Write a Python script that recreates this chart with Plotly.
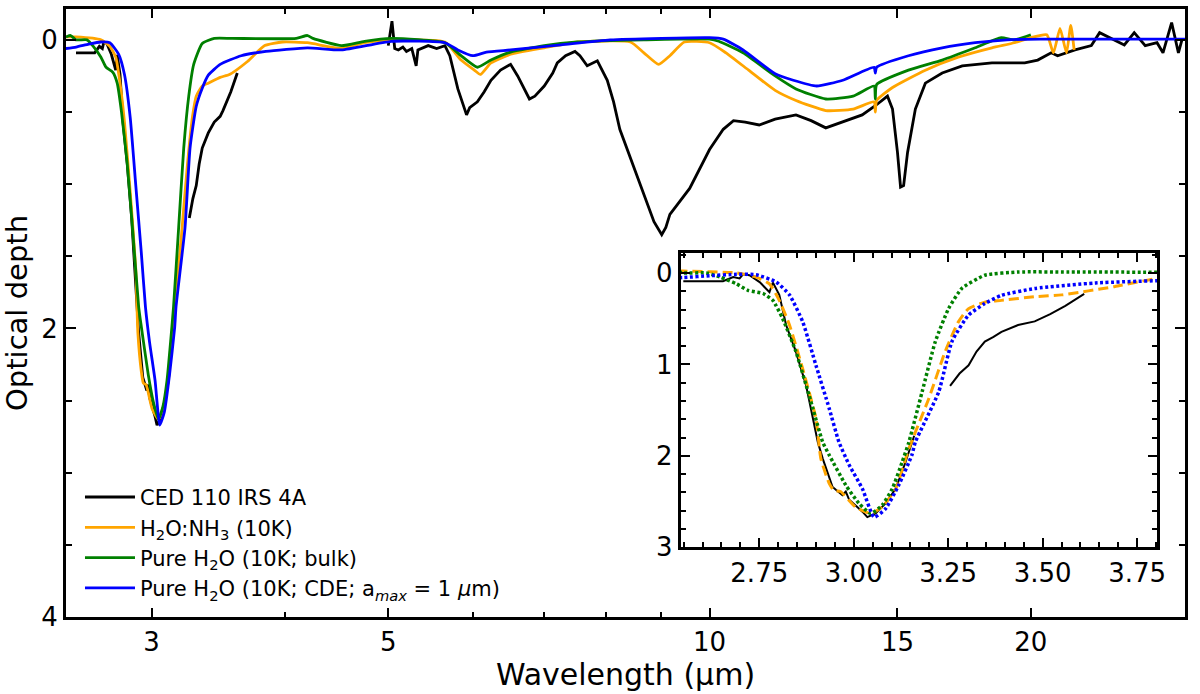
import plotly.graph_objects as go

# ---- data (wavelength in um, optical depth) ----
# CED 110 IRS 4A, three separate pieces of the observed spectrum
ced_wl_a = [2.549, 2.60, 2.654, 2.681, 2.698, 2.707, 2.724, 2.751, 2.777, 2.786, 2.803, 2.821,
            2.847, 2.874, 2.905, 2.918, 2.944, 2.970, 2.979, 2.988, 3.023, 3.036, 3.058, 3.084,
            3.111, 3.137, 3.160]
ced_tau_a = [0.09, 0.09, 0.09, 0.045, 0.06, 0.015, 0.025, 0.10, 0.21, 0.105, 0.24, 0.57,
             0.86, 1.23, 1.85, 2.03, 2.34, 2.43, 2.39, 2.48, 2.61, 2.67, 2.63, 2.52,
             2.36, 2.07, 1.78]
ced_wl_b = [3.255, 3.28, 3.304, 3.325, 3.347, 3.37, 3.391, 3.435, 3.479, 3.50, 3.52, 3.56, 3.61]
ced_tau_b = [1.235, 1.10, 1.01, 0.86, 0.75, 0.70, 0.645, 0.57, 0.53, 0.49, 0.45, 0.36, 0.23]
ced_wl_c = [5.00, 5.04, 5.07, 5.11, 5.16, 5.20, 5.26, 5.31, 5.33, 5.40, 5.45, 5.55, 5.65, 5.71,
            5.81, 5.92, 5.96, 6.06, 6.15, 6.24, 6.37, 6.51, 6.61, 6.78, 6.86, 7.00, 7.13, 7.20,
            7.33, 7.48, 7.56, 7.68, 7.85, 8.02, 8.13, 8.24, 8.55, 8.87, 9.02, 9.10, 9.18, 9.58,
            10.0, 10.30, 10.53, 10.8, 11.13, 11.52, 12.05, 12.45, 12.85, 13.33, 13.9, 14.31,
            14.68, 14.84, 15.0, 15.10, 15.2, 15.33, 15.5, 15.59, 15.93, 16.52, 17.25, 18.39,
            19.74, 20.3, 20.9, 21.19, 22.0, 22.79, 23.2, 24.47, 25.0, 25.6, 26.26, 26.6, 27.1,
            27.5, 27.71]
ced_tau_c = [0.04, -0.13, 0.06, 0.07, 0.05, 0.08, 0.06, 0.18, 0.07, 0.05, 0.04, 0.06, 0.04, 0.11,
             0.34, 0.52, 0.47, 0.43, 0.36, 0.28, 0.21, 0.17, 0.25, 0.41, 0.39, 0.32, 0.23, 0.16,
             0.11, 0.08, 0.11, 0.18, 0.145, 0.28, 0.43, 0.62, 0.94, 1.26, 1.35, 1.30, 1.21, 1.03,
             0.76, 0.62, 0.56, 0.57, 0.59, 0.55, 0.52, 0.56, 0.61, 0.57, 0.52, 0.455,
             0.39, 0.48, 0.78, 1.02, 1.01, 0.78, 0.59, 0.48, 0.30, 0.23, 0.18, 0.16,
             0.16, 0.14, 0.09, 0.11, 0.07, 0.04, -0.05, 0.035, -0.05, 0.04, 0.02, 0.09, -0.12,
             0.09, 0.0]

# H2O:NH3 (10K)
nh3_wl = [2.494, 2.549, 2.69, 2.742, 2.777, 2.803, 2.830, 2.865, 2.90, 2.913, 2.935, 2.948,
          2.965, 3.005, 3.045, 3.075, 3.111, 3.146, 3.199, 3.242, 3.277, 3.304, 3.347, 3.391,
          3.479, 3.55, 3.69, 3.83, 3.98, 4.2, 4.52, 4.75, 5.03, 5.65, 5.85, 6.02, 6.10, 6.24,
          6.51, 7.0, 7.52, 8.43, 8.68, 8.96, 9.18, 9.47, 10.0, 10.36, 10.88, 11.52, 12.05,
          12.85, 13.63, 14.26, 14.30, 14.34, 14.84, 15.93, 17.10, 18.39, 19.3, 20.0, 20.7,
          21.0, 21.3, 21.6, 21.8, 21.96]
nh3_tau = [-0.02, -0.02, 0.0, 0.045, 0.12, 0.30, 0.57, 1.05, 1.59, 2.03, 2.30, 2.38,
           2.39, 2.56, 2.63, 2.56, 2.36, 1.92, 1.37, 0.86, 0.535, 0.39, 0.32, 0.30,
           0.26, 0.24, 0.15, 0.04, 0.015, 0.02, 0.06, 0.02, 0.0, 0.015, 0.14, 0.21, 0.24, 0.16,
           0.10, 0.055, 0.015, 0.015, 0.09, 0.17, 0.11, 0.015, 0.02, 0.09, 0.21, 0.35, 0.42,
           0.49, 0.48, 0.43, 0.50, 0.42, 0.33, 0.21, 0.12, 0.055, 0.02, -0.015, -0.035,
           0.09, -0.08, 0.09, -0.10, 0.07]

# Pure H2O (10K; bulk)
bulk_wl = [2.494, 2.52, 2.549, 2.61, 2.646, 2.69, 2.72, 2.76, 2.786, 2.812, 2.847, 2.882,
           2.918, 2.935, 2.979, 3.014, 3.045, 3.075, 3.102, 3.128, 3.146, 3.181, 3.216, 3.251,
           3.286, 3.347, 3.435, 3.57, 4.1, 4.2, 4.25, 4.52, 4.75, 5.03, 5.65, 5.85, 6.06, 6.24,
           6.51, 7.0, 7.52, 8.68, 10.0, 10.2, 10.75, 11.52, 12.05, 12.85, 13.63, 14.26, 14.30,
           14.34, 15.36, 16.52, 17.74, 18.76, 19.3, 20.0]
bulk_tau = [-0.02, -0.03, 0.0, 0.0, 0.045, 0.12, 0.19, 0.225, 0.30, 0.50, 0.86, 1.34,
            1.85, 1.99, 2.32, 2.52, 2.63, 2.54, 2.36, 2.07, 1.85, 1.30, 0.75, 0.39,
            0.17, 0.025, -0.01, -0.01, -0.01, -0.03, -0.01, 0.04, 0.01, -0.01, 0.02, 0.11, 0.19, 0.14,
            0.085, 0.04, 0.015, 0.0, -0.005, 0.01, 0.09, 0.25, 0.34, 0.41, 0.39, 0.32, 0.41,
            0.31, 0.21, 0.14, 0.055, -0.015, 0.0, -0.035]

# Pure H2O (10K; CDE; a_max = 1 um)
cde_wl = [2.494, 2.55, 2.62, 2.69, 2.742, 2.795, 2.83, 2.865, 2.90, 2.935, 2.961, 2.988,
          3.023, 3.054, 3.084, 3.119, 3.154, 3.163, 3.225, 3.26, 3.304, 3.347, 3.391, 3.479,
          3.64, 3.84, 4.2, 4.52, 5.03, 5.65, 5.81, 6.0, 6.18, 6.51, 7.26, 8.07, 10.0, 10.3,
          10.75, 11.52, 11.98, 12.6, 13.33, 14.26, 14.30, 14.34, 15.36, 16.52, 17.74, 19.0,
          20.4, 27.9]
cde_tau = [0.06, 0.05, 0.03, 0.015, 0.02, 0.10, 0.24, 0.535, 1.01, 1.48, 1.85, 2.10,
           2.36, 2.67, 2.58, 2.32, 1.99, 1.85, 1.30, 0.75, 0.46, 0.335, 0.245, 0.17,
           0.11, 0.08, 0.055, 0.07, 0.01, 0.02, 0.07, 0.11, 0.085, 0.07, 0.035, 0.0, -0.015, -0.005,
           0.07, 0.235, 0.28, 0.32, 0.28, 0.19, 0.23, 0.19, 0.11, 0.055, 0.02, 0.0,
           -0.005, -0.005]

names = ['CED 110 IRS 4A', 'H<sub>2</sub>O:NH<sub>3</sub> (10K)',
         'Pure H<sub>2</sub>O (10K; bulk)',
         'Pure H<sub>2</sub>O (10K; CDE; a<sub><i>max</i></sub> = 1 <i>\u03bc</i>m)']
colors = ['black', '#FFA500', '#008000', '#0000FF']

main_xticks = [3, 5, 10, 15, 20]
main_xminor = [4, 6, 7, 8, 9]
inset_xticks = [2.75, 3.00, 3.25, 3.50, 3.75]

# join the observed pieces with gaps
ced_wl = ced_wl_a + [None] + ced_wl_b + [None] + ced_wl_c
ced_tau = ced_tau_a + [None] + ced_tau_b + [None] + ced_tau_c

series = [(ced_wl, ced_tau), (nh3_wl, nh3_tau), (bulk_wl, bulk_tau), (cde_wl, cde_tau)]
#models are smooth lab curves, the observed spectrum is not
shapes = ['linear', 'spline', 'spline', 'spline']

fig = go.Figure()

#main panel
for i, (wl, tau) in enumerate(series):
    fig.add_trace(go.Scatter(x=wl, y=tau, mode='lines', name=names[i], legendgroup=str(i),
                             line=dict(color=colors[i], width=2.8, shape=shapes[i], smoothing=0.5),
                             connectgaps=False, xaxis='x', yaxis='y'))

#inset panel
inset_styles = [dict(width=2, dash='solid'), dict(width=3, dash='10px,5px'),
                dict(width=3.5, dash='3px,2.5px'), dict(width=3.5, dash='3px,2.5px')]
for i, (wl, tau) in enumerate(series):
    fig.add_trace(go.Scatter(x=wl, y=tau, mode='lines', showlegend=False, connectgaps=False,
                             line=dict(color=colors[i], shape=shapes[i], smoothing=0.5,
                                       **inset_styles[i]),
                             xaxis='x2', yaxis='y2'))

axcommon = dict(showline=True, linewidth=3, linecolor='black', mirror='ticks', showgrid=False,
                zeroline=False, ticks='inside', tickwidth=2, tickcolor='black',
                tickfont=dict(size=26, color='black'))

fig.update_layout(
    width=1200, height=694,
    margin=dict(l=66, r=9, t=6, b=77),
    paper_bgcolor='white', plot_bgcolor='white',
    font=dict(family='DejaVu Sans', color='black'),
    xaxis=dict(type='log', range=[0.3970, 1.4455], tickvals=main_xticks,
               ticktext=[str(v) for v in main_xticks], ticklen=9,
               minor=dict(tickvals=main_xminor, ticks='inside', ticklen=5, tickwidth=2,
                          tickcolor='black'),
               title=dict(text='Wavelength (\u00b5m)', font=dict(size=30), standoff=8),
               **axcommon),
    yaxis=dict(range=[4, -0.2138], tickvals=[0, 2, 4], ticklen=10,
               minor=dict(tick0=0, dtick=0.5, ticks='inside', ticklen=6, tickwidth=2,
                          tickcolor='black'),
               title=dict(text='Optical depth', font=dict(size=29), standoff=10),
               **axcommon),
    xaxis2=dict(domain=[0.5493, 0.9751], anchor='y2', range=[2.542, 3.803],
                tickvals=inset_xticks, ticktext=['%.2f' % v for v in inset_xticks], ticklen=9,
                minor=dict(tick0=2.5, dtick=0.05, ticks='inside', ticklen=5, tickwidth=2,
                           tickcolor='black'),
                **axcommon),
    yaxis2=dict(domain=[0.1146, 0.599], anchor='x2', range=[3.0, -0.22],
                tickvals=[0, 1, 2, 3], ticklen=9,
                minor=dict(tick0=0, dtick=0.2, ticks='inside', ticklen=5, tickwidth=2,
                           tickcolor='black'),
                **axcommon),
    legend=dict(x=0.0125, y=0.2305, xanchor='left', yanchor='top', bgcolor='rgba(0,0,0,0)',
                font=dict(size=21), tracegroupgap=0, itemwidth=50),
)

#drop the default page margin so the figure sits at the window corner
fig.write_html("out.html", config={'displayModeBar': False},
               post_script="document.body.style.margin='0';")
